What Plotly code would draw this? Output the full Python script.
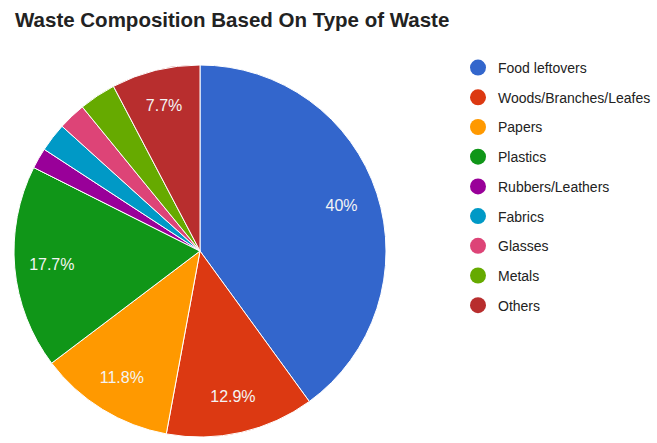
import plotly.graph_objects as go

categories = ["Food leftovers", "Woods/Branches/Leafes", "Papers", "Plastics",
              "Rubbers/Leathers", "Fabrics", "Glasses", "Metals", "Others"]
values = [40.0, 12.9, 11.8, 17.7, 1.8, 2.5, 2.4, 3.2, 7.7]
colors = ["#3366cc", "#dc3912", "#ff9900", "#109618", "#990099",
          "#0099c6", "#dd4477", "#66aa00", "#b82e2e"]

total = sum(values)
slice_text = [f"{round(v / total * 100, 1):g}%" if v / total >= 0.05 else "" for v in values]

W, H = 657, 443
cx, cy, r = 200, 251, 186
dom = dict(x=[(cx - r) / W, (cx + r) / W], y=[(H - cy - r) / H, (H - cy + r) / H])

fig = go.Figure()
fig.add_trace(go.Pie(
    labels=categories, values=values, sort=False, direction="clockwise",
    rotation=0,
    marker=dict(colors=colors, line=dict(color="white", width=1)),
    textinfo="none", showlegend=False, hoverinfo="label+percent",
    domain=dom,
))
# transparent ring carrying the percentage labels further out, like Google Charts
fig.add_trace(go.Pie(
    labels=categories, values=values, sort=False, direction="clockwise",
    rotation=0, hole=0.6,
    marker=dict(colors=["rgba(0,0,0,0)"] * len(values), line=dict(width=0)),
    text=slice_text, textinfo="text", textposition="inside",
    insidetextorientation="horizontal",
    textfont=dict(family="Liberation Sans, Arial", size=16, color="#f4f4f4"),
    showlegend=False, hoverinfo="skip",
    domain=dom,
))
for i, (c, col) in enumerate(zip(categories, colors)):
    fig.add_trace(go.Scatter(
        x=[None], y=[None], mode="markers", name=c, legendgroup=f"g{i}",
        marker=dict(color=col, size=20, symbol="circle"), hoverinfo="skip",
    ))

fig.update_layout(
    width=W, height=H,
    margin=dict(l=0, r=0, t=0, b=0),
    paper_bgcolor="white", plot_bgcolor="white",
    title=dict(text="<b>Waste Composition Based On Type of Waste</b>",
               x=15 / W, xanchor="left", y=1 - 20 / H, yanchor="middle",
               font=dict(family="Liberation Sans, Arial", size=20.5, color="#222222")),
    xaxis=dict(visible=False), yaxis=dict(visible=False),
    legend=dict(x=458 / W, xanchor="left", y=1 - 52 / H, yanchor="top",
                traceorder="grouped", tracegroupgap=8.5,
                font=dict(family="Liberation Sans, Arial", size=14, color="#222222"),
                bgcolor="rgba(0,0,0,0)"),
)

fig.write_html("out.html")
